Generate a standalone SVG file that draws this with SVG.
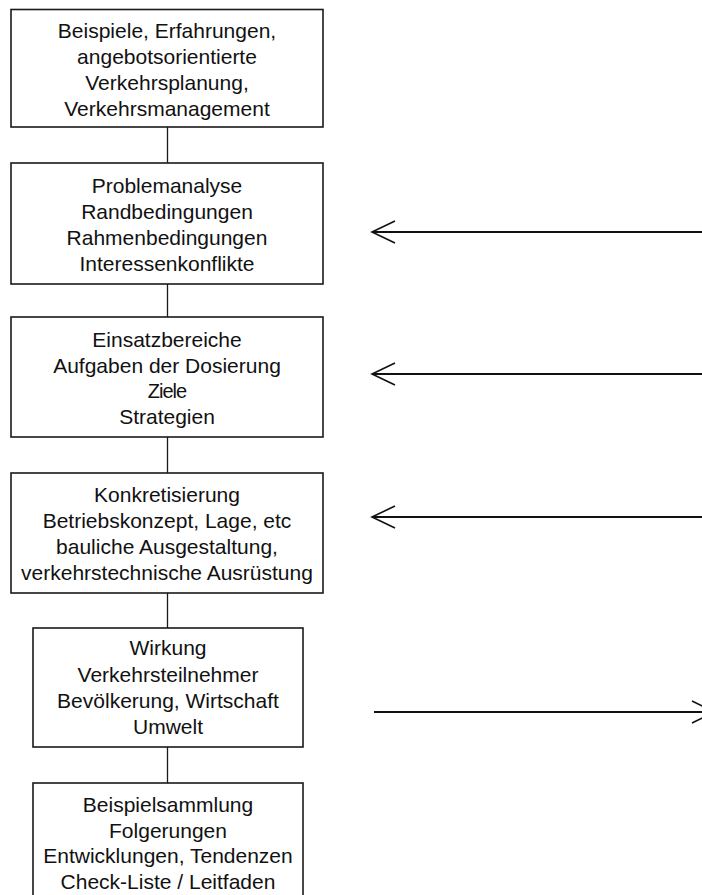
<svg xmlns="http://www.w3.org/2000/svg" width="702" height="895" viewBox="0 0 702 895">
  <style>
    .box { fill: #ffffff; stroke: #1a1a1a; stroke-width: 1.6; }
    .lbl { font-family: "Liberation Sans", Arial, sans-serif; font-size: 21px; fill: #111111; text-anchor: middle; }
    .narrow { font-size: 20px; letter-spacing: -1px; }
    .link { stroke: #1a1a1a; stroke-width: 1.3; fill: none; }
    .arrow { stroke: #111111; stroke-width: 1.8; fill: none; }
  </style>
  <defs>
    <marker id="openHead" viewBox="0 0 26 26" refX="24" refY="13" markerWidth="26" markerHeight="26" markerUnits="userSpaceOnUse" orient="auto-start-reverse">
      <path d="M1,2 L24,13 L1,24" fill="none" stroke="#111111" stroke-width="1.6"/>
    </marker>
  </defs>
  <rect width="702" height="895" fill="#ffffff"/>

  <!-- connectors -->
  <g id="connectors">
    <line class="link" x1="167.5" y1="127" x2="167.5" y2="163"/>
    <line class="link" x1="167.5" y1="284" x2="167.5" y2="317"/>
    <line class="link" x1="167.5" y1="437" x2="167.5" y2="473"/>
    <line class="link" x1="167.5" y1="593" x2="167.5" y2="628"/>
    <line class="link" x1="167.5" y1="747" x2="167.5" y2="783"/>
    <line class="arrow" x1="702" y1="232" x2="372" y2="232" marker-end="url(#openHead)"/>
    <line class="arrow" x1="702" y1="374" x2="372" y2="374" marker-end="url(#openHead)"/>
    <line class="arrow" x1="702" y1="517" x2="372" y2="517" marker-end="url(#openHead)"/>
    <line class="arrow" x1="374" y1="712" x2="715" y2="712" marker-end="url(#openHead)"/>
  </g>

  <g id="node-beispiele">
    <rect class="box" x="11" y="9.5" width="312" height="117.5"/>
    <text class="lbl" x="167" y="38">Beispiele, Erfahrungen,</text>
    <text class="lbl" x="167" y="64">angebotsorientierte</text>
    <text class="lbl" x="167" y="90">Verkehrsplanung,</text>
    <text class="lbl" x="167" y="116">Verkehrsmanagement</text>
  </g>

  <g id="node-problemanalyse">
    <rect class="box" x="11" y="163" width="312" height="121"/>
    <text class="lbl" x="167" y="193">Problemanalyse</text>
    <text class="lbl" x="167" y="219">Randbedingungen</text>
    <text class="lbl" x="167" y="245">Rahmenbedingungen</text>
    <text class="lbl" x="167" y="271">Interessenkonflikte</text>
  </g>

  <g id="node-einsatzbereiche">
    <rect class="box" x="11" y="317" width="312" height="120"/>
    <text class="lbl" x="167" y="347">Einsatzbereiche</text>
    <text class="lbl" x="167" y="373">Aufgaben der Dosierung</text>
    <text class="lbl narrow" x="167" y="398">Ziele</text>
    <text class="lbl" x="167" y="424">Strategien</text>
  </g>

  <g id="node-konkretisierung">
    <rect class="box" x="11" y="473" width="312" height="120"/>
    <text class="lbl" x="167" y="502">Konkretisierung</text>
    <text class="lbl" x="167" y="528">Betriebskonzept, Lage, etc</text>
    <text class="lbl" x="167" y="554">bauliche Ausgestaltung,</text>
    <text class="lbl" x="167" y="580">verkehrstechnische Ausrüstung</text>
  </g>

  <g id="node-wirkung">
    <rect class="box" x="33" y="628" width="270" height="119"/>
    <text class="lbl" x="168" y="655">Wirkung</text>
    <text class="lbl" x="168" y="682">Verkehrsteilnehmer</text>
    <text class="lbl" x="168" y="708">Bevölkerung, Wirtschaft</text>
    <text class="lbl" x="168" y="734">Umwelt</text>
  </g>

  <g id="node-beispielsammlung">
    <rect class="box" x="33" y="783" width="270" height="130"/>
    <text class="lbl" x="168" y="812">Beispielsammlung</text>
    <text class="lbl" x="168" y="838">Folgerungen</text>
    <text class="lbl" x="168" y="863">Entwicklungen, Tendenzen</text>
    <text class="lbl" x="168" y="889">Check-Liste / Leitfaden</text>
  </g>
</svg>
